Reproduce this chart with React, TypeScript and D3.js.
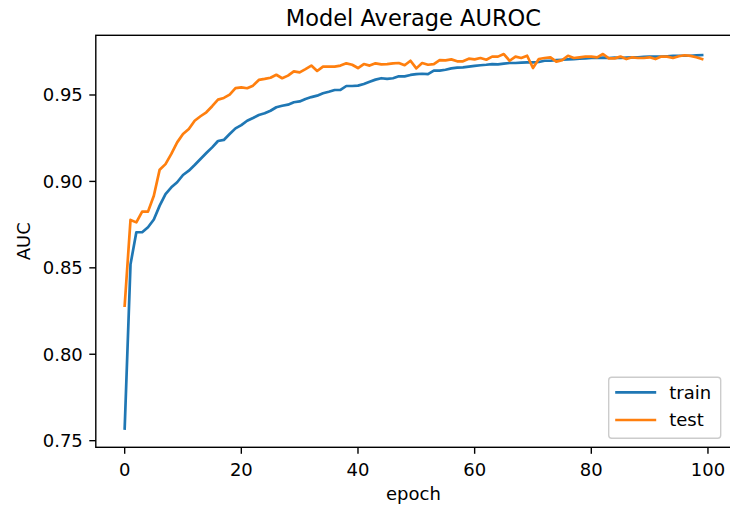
import React from "react";
import * as d3 from "d3";

const WIDTH = 730;
const HEIGHT = 510;
const BOX = { left: 95.8, right: 731, top: 35.3, bottom: 447.3 };
const FONT = "DejaVu Sans, sans-serif";
const TICK_FONT = 18;

const title = "Model Average AUROC";
const xLabel = "epoch";
const yLabel = "AUC";
const xTicks = [0, 20, 40, 60, 80, 100];
const yTicks = [0.75, 0.8, 0.85, 0.9, 0.95];

const train = [
  0.757, 0.852, 0.8706, 0.8706, 0.8735, 0.878, 0.886, 0.8927, 0.8966, 0.8995,
  0.9037, 0.9062, 0.9095, 0.913, 0.9164, 0.9197, 0.9234, 0.924, 0.9274, 0.9307,
  0.9326, 0.9351, 0.9367, 0.9384, 0.9394, 0.9409, 0.9429, 0.9438, 0.9444, 0.9458,
  0.9463, 0.9477, 0.9488, 0.9496, 0.951, 0.9519, 0.9529, 0.9529, 0.9552, 0.9552,
  0.9554, 0.9564, 0.9577, 0.9589, 0.9597, 0.9593, 0.9597, 0.9608, 0.9608, 0.9616,
  0.9621, 0.9623, 0.9621, 0.9641, 0.9641, 0.9646, 0.9654, 0.9658, 0.966, 0.9664,
  0.9668, 0.9672, 0.9675, 0.9679, 0.9677, 0.9681, 0.9685, 0.9685, 0.9687, 0.9689,
  0.9689, 0.9691, 0.9698, 0.9698, 0.9702, 0.9704, 0.9706, 0.9708, 0.971, 0.9712,
  0.9714, 0.9714, 0.9716, 0.9714, 0.9716, 0.9714, 0.9716, 0.9718, 0.9718, 0.972,
  0.9722, 0.9722, 0.9722, 0.9724, 0.9726, 0.9727, 0.9727, 0.9727, 0.9729, 0.9731,
];

const test = [
  0.8281, 0.8777, 0.8763, 0.8825, 0.8825, 0.8917, 0.9068, 0.91, 0.9159, 0.9226,
  0.9274, 0.9303, 0.9351, 0.9377, 0.94, 0.9435, 0.9473, 0.9483, 0.9502, 0.954,
  0.9544, 0.9539, 0.9554, 0.9587, 0.9593, 0.96, 0.9617, 0.9597, 0.9612, 0.9637,
  0.9631, 0.965, 0.967, 0.9639, 0.9664, 0.9664, 0.9664, 0.967, 0.9683, 0.9675,
  0.9656, 0.9679, 0.967, 0.9683, 0.9677, 0.9679, 0.9683, 0.9685, 0.9672, 0.9698,
  0.9654, 0.9685, 0.9675, 0.9679, 0.9702, 0.97, 0.9706, 0.9695, 0.9695, 0.971,
  0.9706, 0.9714, 0.9704, 0.9722, 0.9722, 0.9737, 0.9698, 0.9722, 0.9714, 0.9727,
  0.9656, 0.9708, 0.9714, 0.9718, 0.9693, 0.9702, 0.9727, 0.9714, 0.9718, 0.9722,
  0.9722, 0.9718, 0.9737, 0.9712, 0.9712, 0.9722, 0.9708, 0.9718, 0.9714, 0.9714,
  0.9718, 0.9708, 0.9722, 0.9722, 0.9714, 0.9724, 0.973, 0.9726, 0.9718, 0.9708,
];

const series = [
  { name: "train", values: train, color: "#1f77b4" },
  { name: "test", values: test, color: "#ff7f0e" },
];

export default function App() {
  const n = train.length;
  const xPad = (n - 1) * 0.05;
  const xScale = d3.scaleLinear().domain([-xPad, n - 1 + xPad]).range([BOX.left, BOX.right]);

  const all = [...train, ...test];
  const lo = d3.min(all) as number;
  const hi = d3.max(all) as number;
  const yPad = (hi - lo) * 0.05;
  const yScale = d3.scaleLinear().domain([lo - yPad, hi + yPad]).range([BOX.bottom, BOX.top]);

  const line = d3
    .line<number>()
    .x((_, i) => xScale(i))
    .y((d) => yScale(d));

  const legendX = 608.7;
  const legendY = 377.3;

  return (
    <svg
      width={WIDTH}
      height={HEIGHT}
      style={{ position: "absolute", left: 0, top: 0, background: "#fff" }}
      fontFamily={FONT}
    >
      <rect width={WIDTH} height={HEIGHT} fill="#fff" />

      {series.map((s) => (
        <path
          key={s.name}
          d={line(s.values) || ""}
          fill="none"
          stroke={s.color}
          strokeWidth={2.7}
          strokeLinejoin="round"
          strokeLinecap="square"
        />
      ))}

      {/* spines */}
      <rect
        x={BOX.left}
        y={BOX.top}
        width={BOX.right - BOX.left}
        height={BOX.bottom - BOX.top}
        fill="none"
        stroke="#000"
        strokeWidth={1.4}
      />

      {/* x axis */}
      {xTicks.map((t) => (
        <g key={`x${t}`} transform={`translate(${xScale(t)},${BOX.bottom})`}>
          <line y2={6.5} stroke="#000" strokeWidth={1.4} />
          <text y={28.5} textAnchor="middle" fontSize={TICK_FONT} fill="#000">
            {t}
          </text>
        </g>
      ))}
      <text x={(BOX.left + BOX.right) / 2} y={500} textAnchor="middle" fontSize={TICK_FONT}>
        {xLabel}
      </text>

      {/* y axis */}
      {yTicks.map((t) => (
        <g key={`y${t}`} transform={`translate(${BOX.left},${yScale(t)})`}>
          <line x2={-6.5} stroke="#000" strokeWidth={1.4} />
          <text x={-13} dy="0.36em" textAnchor="end" fontSize={TICK_FONT} fill="#000">
            {d3.format(".2f")(t)}
          </text>
        </g>
      ))}
      <text
        transform={`translate(30,${(BOX.top + BOX.bottom) / 2}) rotate(-90)`}
        textAnchor="middle"
        fontSize={TICK_FONT}
      >
        {yLabel}
      </text>

      {/* title */}
      <text x={(BOX.left + BOX.right) / 2} y={26} textAnchor="middle" fontSize={22.5}>
        {title}
      </text>

      {/* legend */}
      <g>
        <rect
          x={legendX}
          y={legendY}
          width={112}
          height={61}
          rx={3}
          fill="#fff"
          fillOpacity={0.8}
          stroke="#cccccc"
          strokeWidth={1.4}
        />
        {series.map((s, i) => (
          <g key={`lg${s.name}`} transform={`translate(${legendX},${legendY + 15 + i * 27.7})`}>
            <line x1={6.5} x2={47.5} stroke={s.color} strokeWidth={2.7} />
            <text x={60.5} dy="0.36em" fontSize={TICK_FONT} fill="#000">
              {s.name}
            </text>
          </g>
        ))}
      </g>
    </svg>
  );
}
